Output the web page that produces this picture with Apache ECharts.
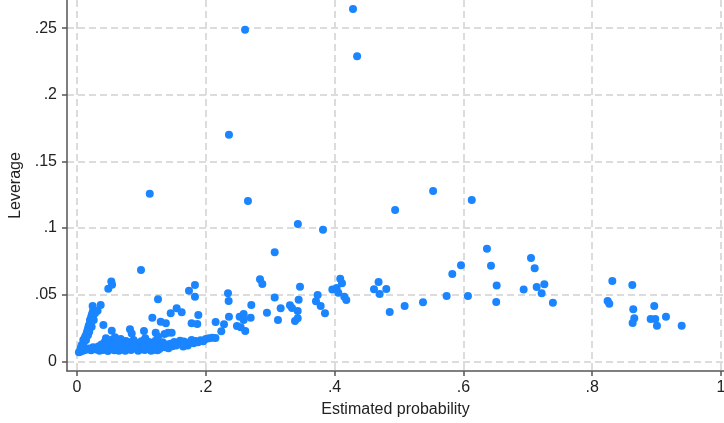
<!DOCTYPE html>
<html>
<head>
<meta charset="utf-8">
<script src="https://cdn.jsdelivr.net/npm/echarts@6/dist/echarts.min.js"></script>
<style>
html, body { margin: 0; padding: 0; background: #fff; }
#container { width: 724px; height: 423px; }
</style>
</head>
<body>
<div id="container"></div>
<script>
// tick values on each axis
var xTicks = [0, 0.2, 0.4, 0.6, 0.8, 1];
var yTicks = [0, 0.05, 0.1, 0.15, 0.2, 0.25];

// [estimated probability, leverage]
var armPoints = [
    [0.003, 0.0068], [0.005, 0.0082], [0.0073, 0.0122], [0.006, 0.0102], [0.008, 0.0118],
    [0.0098, 0.016], [0.011, 0.0148], [0.012, 0.0172], [0.013, 0.0188], [0.015, 0.021],
    [0.016, 0.0228], [0.017, 0.0242], [0.018, 0.0262], [0.019, 0.0275], [0.0202, 0.031],
    [0.021, 0.0292], [0.022, 0.0332], [0.0228, 0.026], [0.023, 0.0348], [0.024, 0.0362],
    [0.025, 0.0378], [0.0243, 0.0415], [0.028, 0.036], [0.032, 0.038], [0.0368, 0.0423],
    [0.014, 0.016], [0.017, 0.0195], [0.019, 0.0222], [0.026, 0.031], [0.01, 0.011]
];

var bandPoints = [
    [0.006, 0.0074], [0.009, 0.0079], [0.012, 0.0085], [0.015, 0.0088], [0.018, 0.0095],
    [0.022, 0.0082], [0.025, 0.0105], [0.027, 0.0098], [0.03, 0.0088], [0.033, 0.011],
    [0.035, 0.0079], [0.036, 0.0092], [0.038, 0.0125], [0.04, 0.0085], [0.041, 0.0102],
    [0.043, 0.0145], [0.045, 0.0088], [0.047, 0.0118], [0.048, 0.0078], [0.05, 0.0097],
    [0.052, 0.0135], [0.054, 0.0162], [0.055, 0.0122], [0.056, 0.0105], [0.058, 0.0082],
    [0.06, 0.0122], [0.062, 0.0148], [0.064, 0.0095], [0.065, 0.0079], [0.066, 0.0113],
    [0.068, 0.0168], [0.07, 0.0088], [0.072, 0.0132], [0.074, 0.0105], [0.075, 0.0079],
    [0.076, 0.0152], [0.078, 0.0092], [0.08, 0.0118], [0.082, 0.0142], [0.084, 0.0085],
    [0.085, 0.0125], [0.086, 0.0108], [0.088, 0.016], [0.09, 0.0125], [0.092, 0.0095],
    [0.094, 0.0138], [0.095, 0.0079], [0.096, 0.0112], [0.098, 0.0088], [0.1, 0.015],
    [0.102, 0.0102], [0.104, 0.0128], [0.105, 0.0085], [0.106, 0.0172], [0.108, 0.0092],
    [0.11, 0.0118], [0.112, 0.0145], [0.114, 0.0098], [0.115, 0.0079], [0.116, 0.0125],
    [0.118, 0.0085], [0.12, 0.0112], [0.122, 0.0155], [0.124, 0.0102], [0.125, 0.0082],
    [0.126, 0.0132], [0.128, 0.0092], [0.13, 0.0118], [0.133, 0.0142], [0.136, 0.0105],
    [0.139, 0.0125], [0.142, 0.0098], [0.145, 0.0132], [0.148, 0.0112], [0.151, 0.0145],
    [0.154, 0.0118], [0.157, 0.0135], [0.16, 0.0155], [0.163, 0.0125], [0.165, 0.011],
    [0.166, 0.0148], [0.169, 0.0138], [0.172, 0.0118], [0.175, 0.0142], [0.178, 0.016],
    [0.181, 0.0135], [0.184, 0.0152], [0.188, 0.0142], [0.192, 0.0158], [0.196, 0.015],
    [0.2, 0.0168], [0.205, 0.0172], [0.21, 0.0177], [0.215, 0.0175]
];

var lowScatter = [
    [0.041, 0.0273], [0.054, 0.023], [0.045, 0.0173], [0.059, 0.018], [0.0637, 0.016],
    [0.0823, 0.024], [0.085, 0.0208], [0.104, 0.0227], [0.117, 0.0327], [0.1258, 0.0465],
    [0.1222, 0.0215], [0.1258, 0.0185], [0.13, 0.0297], [0.138, 0.0285], [0.136, 0.0205],
    [0.1413, 0.0215], [0.1455, 0.036], [0.1548, 0.0398], [0.1626, 0.0368], [0.147, 0.0215],
    [0.1739, 0.053], [0.1832, 0.0573], [0.1832, 0.0485], [0.1884, 0.0348], [0.178, 0.0285],
    [0.1868, 0.028], [0.0486, 0.0545], [0.0533, 0.0598], [0.0545, 0.0575]
];

var midPoints = [
    [0.2153, 0.0295], [0.2283, 0.0278], [0.2241, 0.0225], [0.2345, 0.051], [0.2355, 0.0453],
    [0.236, 0.0335], [0.2484, 0.0265], [0.2526, 0.0335], [0.2588, 0.0355], [0.2588, 0.031],
    [0.2542, 0.0255], [0.2613, 0.0227], [0.2697, 0.0327], [0.2707, 0.0423], [0.2842, 0.0616],
    [0.2878, 0.058], [0.295, 0.0365], [0.307, 0.0478], [0.3121, 0.031], [0.3163, 0.0398],
    [0.3307, 0.042], [0.3339, 0.04], [0.3427, 0.0378], [0.3442, 0.0462], [0.3427, 0.0323],
    [0.3385, 0.0303], [0.3463, 0.056], [0.3737, 0.0498], [0.3711, 0.045], [0.3784, 0.0415],
    [0.3851, 0.036], [0.3965, 0.0538], [0.4032, 0.055], [0.4088, 0.062], [0.4115, 0.0585],
    [0.4058, 0.0515], [0.4151, 0.0485], [0.4182, 0.046], [0.4683, 0.0595], [0.4612, 0.0541],
    [0.4803, 0.0543], [0.47, 0.0505], [0.4856, 0.037], [0.5088, 0.0415], [0.5373, 0.0443]
];

var highPoints = [
    [0.574, 0.049], [0.6071, 0.049], [0.5828, 0.0655], [0.5963, 0.0721], [0.6366, 0.0845],
    [0.6429, 0.0718], [0.6517, 0.0568], [0.651, 0.0445], [0.705, 0.0776], [0.7107, 0.0698],
    [0.6936, 0.0538], [0.7138, 0.0558], [0.7257, 0.0578], [0.7215, 0.051], [0.739, 0.044],
    [0.8313, 0.0603], [0.8623, 0.0573], [0.824, 0.0452], [0.8266, 0.0431], [0.8638, 0.0391],
    [0.8654, 0.0323], [0.8628, 0.0287], [0.8964, 0.0415], [0.8908, 0.0318], [0.898, 0.0318],
    [0.9006, 0.0267], [0.9146, 0.0334], [0.939, 0.0267]
];

var outliers = [
    [0.4286, 0.2645], [0.261, 0.2488], [0.435, 0.229], [0.236, 0.170], [0.113, 0.1257],
    [0.2655, 0.1204], [0.553, 0.1279], [0.494, 0.1135], [0.613, 0.1211], [0.343, 0.103],
    [0.382, 0.0988], [0.0994, 0.0685], [0.307, 0.0818]
];

var allPoints = armPoints.concat(bandPoints, lowScatter, midPoints, highPoints, outliers);

function tickText(v) {
    return String(v).replace(/^0\./, '.');
}

var dom = document.getElementById('container');
var myChart = echarts.init(dom);

var gridLine = {
    show: true,
    lineStyle: { color: '#dcdcdc', width: 2, type: [7, 4] }
};

var option = {
    animation: false,
    backgroundColor: '#fff',
    textStyle: { fontFamily: 'Liberation Sans, Arial, sans-serif' },
    grid: { left: 67, right: 0, top: 0, bottom: 52, outerBoundsMode: 'none', containLabel: false },
    xAxis: {
        type: 'value',
        min: -0.0155,
        max: 1.0047,
        name: 'Estimated probability',
        nameLocation: 'middle',
        nameGap: 31,
        nameTextStyle: { fontSize: 16, color: '#222' },
        axisLine: { show: true, onZero: false, lineStyle: { color: '#555', width: 1.5 } },
        axisTick: { show: true, length: 5, customValues: xTicks, lineStyle: { color: '#555', width: 1.5 } },
        axisLabel: { customValues: xTicks, formatter: tickText, fontSize: 16, color: '#222', margin: 9 },
        splitLine: gridLine
    },
    yAxis: {
        type: 'value',
        min: -0.0073,
        max: 0.2712,
        name: 'Leverage',
        nameLocation: 'middle',
        nameGap: 42,
        nameTextStyle: { fontSize: 16, color: '#222' },
        axisLine: { show: true, onZero: false, lineStyle: { color: '#555', width: 1.5 } },
        axisTick: { show: true, length: 5, customValues: yTicks, lineStyle: { color: '#555', width: 1.5 } },
        axisLabel: { customValues: yTicks, formatter: tickText, fontSize: 16, color: '#222', margin: 10 },
        splitLine: gridLine
    },
    series: [
        {
            type: 'scatter',
            data: allPoints,
            symbolSize: 8,
            itemStyle: { color: '#1a85ff', opacity: 1 }
        }
    ]
};

myChart.setOption(option);
</script>
</body>
</html>
